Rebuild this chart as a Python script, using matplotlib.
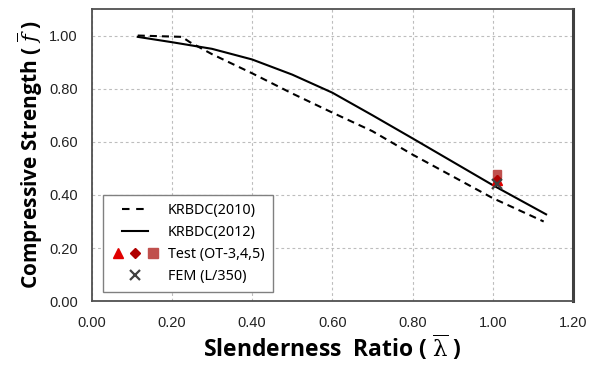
import matplotlib
matplotlib.use("Agg")
import matplotlib.pyplot as plt
from matplotlib.lines import Line2D
from matplotlib.legend_handler import HandlerTuple, HandlerLine2D

# Data
lam_2010 = [0.115, 0.225, 0.245, 0.30, 0.40, 0.50, 0.60, 0.70, 0.80, 0.90, 1.00, 1.127]
f_2010 = [1.000, 0.995, 0.975, 0.930, 0.858, 0.782, 0.710, 0.640, 0.552, 0.470, 0.388, 0.300]

lam_2012 = [0.115, 0.20, 0.30, 0.40, 0.50, 0.60, 0.70, 0.80, 0.90, 1.00, 1.133]
f_2012 = [0.995, 0.975, 0.950, 0.910, 0.853, 0.785, 0.700, 0.613, 0.525, 0.437, 0.327]

test_lam = [1.01, 1.01, 1.01]          # OT-3, OT-4, OT-5
test_f = [0.455, 0.460, 0.477]
fem_lam = [1.01]
fem_f = [0.440]

xticks = [0.0, 0.2, 0.4, 0.6, 0.8, 1.0, 1.2]
yticks = [0.0, 0.2, 0.4, 0.6, 0.8, 1.0]

plt.rcParams['mathtext.fontset'] = 'dejavuserif'


class ShortLine(HandlerLine2D):
    def create_artists(self, legend, orig_handle, xdescent, ydescent, width, height, fontsize, trans):
        shrink = width * 0.24
        return super().create_artists(legend, orig_handle, xdescent - shrink, ydescent,
                                      width - 2 * shrink, height, fontsize, trans)


fig = plt.figure(figsize=(5.91, 3.66), dpi=100)
ax = fig.add_axes([0.155, 0.177, 0.8145, 0.7985])

ax.plot(lam_2010, f_2010, color='black', lw=1.5, linestyle=(0, (3.4, 2.4)))
ax.plot(lam_2012, f_2012, color='black', lw=1.5)
ax.plot(test_lam[2], test_f[2], 's', color='#c0504d', ms=6, mec='#c0504d', linestyle='none')
ax.plot(test_lam[0], test_f[0], '^', color='#e00000', ms=6.5, linestyle='none')
ax.plot(test_lam[1], test_f[1], 'D', color='#b00000', ms=4.5, linestyle='none')
ax.plot(fem_lam, fem_f, 'x', color='#404040', ms=6.5, mew=1.6, linestyle='none')

ax.set_xlim(0, 1.2)
ax.set_ylim(0, 1.10)
ax.set_xticks(xticks)
ax.set_yticks(yticks)
ax.set_xticklabels([f"{v:.2f}" for v in xticks], fontfamily='Liberation Sans', fontsize=10.5)
ax.set_yticklabels([f"{v:.2f}" for v in yticks], fontfamily='Liberation Sans', fontsize=10.5)
ax.tick_params(axis='both', length=0, colors='#222222')
ax.tick_params(axis='x', pad=11)
ax.tick_params(axis='y', pad=10)

ax.grid(True, color='#bdbdbd', linestyle=(0, (2.5, 2.5)), lw=0.8)
ax.set_axisbelow(True)

for s in ax.spines.values():
    s.set_color('#505050')
    s.set_linewidth(1.3)
ax.spines['right'].set_linewidth(2.2)
ax.spines['right'].set_color('#404040')

ax.set_xlabel(r'Slenderness  Ratio ( $\overline{\mathrm{\lambda}}$ )', fontfamily='Open Sans',
              fontweight='bold', fontsize=16.5, labelpad=2)
ax.set_ylabel(r'Compressive Strength ( $\overline{f}$ )', fontfamily='Open Sans',
              fontweight='bold', fontsize=15, labelpad=3)

h_2010 = Line2D([], [], color='black', lw=1.5, linestyle=(0, (3.6, 3.2)))
h_2012 = Line2D([], [], color='black', lw=1.5)
h_tri = Line2D([], [], marker='^', color='#e00000', ms=7.5, linestyle='none')
h_dia = Line2D([], [], marker='D', color='#b00000', ms=5.5, linestyle='none')
h_sq = Line2D([], [], marker='s', color='#c0504d', ms=6.5, linestyle='none')
h_fem = Line2D([], [], marker='x', color='#404040', ms=7, mew=1.6, linestyle='none')

leg = ax.legend([h_2010, h_2012, (h_tri, h_dia, h_sq), h_fem],
                ['KRBDC(2010)', 'KRBDC(2012)', 'Test (OT-3,4,5)', 'FEM (L/350)'],
                handler_map={tuple: HandlerTuple(ndivide=None, pad=0.25),
                             h_2010: ShortLine(), h_2012: ShortLine()},
                loc='lower left', bbox_to_anchor=(0.0235, 0.032),
                prop={'family': 'Noto Sans', 'size': 10.3},
                frameon=True, fancybox=False, edgecolor='#808080', framealpha=1,
                handlelength=3.4, handletextpad=0.6, labelspacing=0.5,
                borderpad=0.55, borderaxespad=0)
leg.get_frame().set_linewidth(1.0)

fig.savefig('out.png', dpi=100)
